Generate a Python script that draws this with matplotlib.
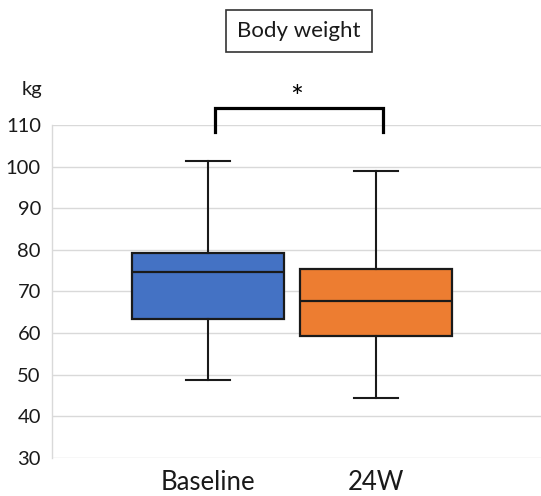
import matplotlib
matplotlib.use("Agg")
import matplotlib.pyplot as plt

categories = ["Baseline", "24W"]
whisker_low = [48.7, 44.5]
q1 = [63.5, 59.3]
median = [74.7, 67.8]
q3 = [79.2, 75.3]
whisker_high = [101.4, 98.9]
colors = ["#4472C4", "#ED7D31"]
yticks = [30, 40, 50, 60, 70, 80, 90, 100, 110]

plt.rcParams['font.family'] = ['Lato', 'DejaVu Sans']

fig = plt.figure(figsize=(5.41, 4.96), dpi=100)
ax = fig.add_axes([52/541, 38/496, (541-52)/541, 333/496])

stats = []
for i, c in enumerate(categories):
    stats.append(dict(label=c, whislo=whisker_low[i], q1=q1[i], med=median[i],
                      q3=q3[i], whishi=whisker_high[i], fliers=[]))
positions = [1, 2]
bp = ax.bxp(stats, positions=positions, widths=0.905, patch_artist=True,
            showfliers=False, capwidths=0.262,
            boxprops=dict(linewidth=1.6, edgecolor="#1a1a1a"),
            medianprops=dict(color="#1a1a1a", linewidth=1.6),
            whiskerprops=dict(color="#1a1a1a", linewidth=1.5),
            capprops=dict(color="#1a1a1a", linewidth=1.5))
for patch, col in zip(bp['boxes'], colors):
    patch.set_facecolor(col)
for el in ['boxes', 'medians', 'whiskers', 'caps']:
    for a in bp[el]:
        a.set_zorder(3)

ax.set_xlim(0.071, 2.982)
ax.set_ylim(30, 110)
ax.set_yticks(yticks)
ax.yaxis.grid(True, color="#d9d9d9", linewidth=1.0)
ax.set_axisbelow(True)
for s in ['top', 'right', 'bottom']:
    ax.spines[s].set_visible(False)
ax.spines['left'].set_color("#d9d9d9")
ax.spines['left'].set_linewidth(1.0)
ax.tick_params(axis='y', length=0, pad=8, labelsize=14.5, labelcolor="#1a1a1a")
ax.tick_params(axis='x', length=0, pad=9, labelsize=18.5, labelcolor="#1a1a1a")
ax.set_xticks(positions)
ax.set_xticklabels(categories)

# significance bracket
bx = [1.04, 1.04, 2.04, 2.04]
by = [108.2, 114.1, 114.1, 108.2]
ax.plot(bx, by, color="black", linewidth=2.3, clip_on=False,
        solid_joinstyle='miter')
ax.text(1.53, 116.6, "*", ha='center', va='center', fontsize=22, color="black")

# unit label
fig.text(32/541, 1 - 89/496, "kg", ha='center', va='center', fontsize=14.5,
         color="#1a1a1a")

# title box
fig.text(299/541, 1 - 31/496, "Body weight", ha='center', va='center',
         fontsize=16, color="#1a1a1a",
         bbox=dict(boxstyle="square,pad=0.5", facecolor="white",
                   edgecolor="#333333", linewidth=1.2))

fig.savefig("out.png", dpi=100)
